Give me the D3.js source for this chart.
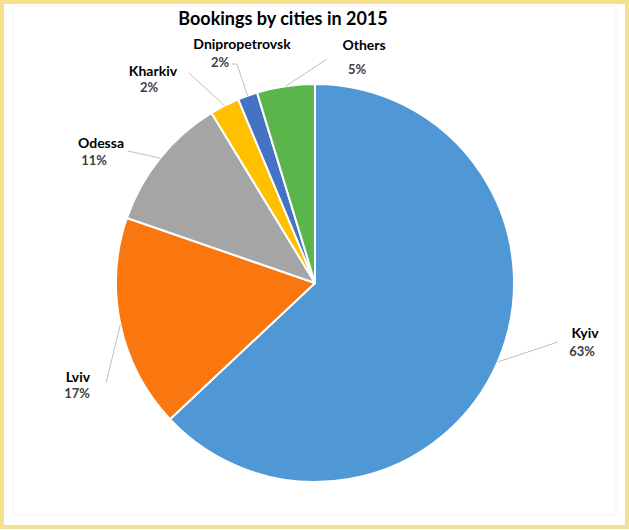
<!DOCTYPE html>
<html>
<head>
<meta charset="utf-8">
<title>Bookings by cities</title>
<script src="https://d3js.org/d3.v7.min.js"></script>
<style>
  body { margin: 0; background: #fff; }
  svg text { font-family: Lato, "Open Sans", sans-serif; font-weight: bold; }
</style>
</head>
<body>
<svg id="chart"></svg>
<script>
// data
const cities = ["Kyiv", "Lviv", "Odessa", "Kharkiv", "Dnipropetrovsk", "Others"];
const shares = [63, 17.3, 11, 2.4, 1.6, 4.7];
const shareLabels = ["63%", "17%", "11%", "2%", "2%", "5%"];
const colors = ["#5097d5", "#fa760e", "#a5a5a5", "#ffc000", "#4472c4", "#5ab64b"];

// label layout (name position, percent position, leader start, optional elbow)
const labelLayout = [
  { name: [585, 338], pct: [582, 356], line: [[558, 342]] },
  { name: [78, 382], pct: [77, 398], line: [[106, 383]] },
  { name: [101, 148], pct: [94, 165], line: [[128, 151]] },
  { name: [153, 76], pct: [149, 92], line: [[189, 73]] },
  { name: [242, 49], pct: [220, 67], line: [[232, 64], [237, 64]] },
  { name: [364, 50], pct: [357, 74], line: [[327, 59]] }
];

const width = 629, height = 530;
const cx = 315, cy = 283, radius = 199;

const svg = d3.select("#chart")
  .attr("width", width)
  .attr("height", height);

// yellow frame
svg.append("rect")
  .attr("x", 2).attr("y", 2)
  .attr("width", width - 4).attr("height", height - 5)
  .attr("fill", "#fff")
  .attr("stroke", "#f7e08c")
  .attr("stroke-width", 4);

svg.append("rect")
  .attr("x", 13).attr("y", 6)
  .attr("width", width - 26).attr("height", 509)
  .attr("fill", "none")
  .attr("stroke", "#f3f3f3")
  .attr("stroke-width", 1);

svg.append("text")
  .attr("x", 283)
  .attr("y", 25)
  .attr("text-anchor", "middle")
  .attr("font-size", 18)
  .attr("fill", "#000")
  .text("Bookings by cities in 2015");

const pie = d3.pie().sort(null).value(d => d);
const arcs = pie(shares);

const arc = d3.arc().innerRadius(0).outerRadius(radius);
const edge = d3.arc().innerRadius(radius).outerRadius(radius);

const g = svg.append("g").attr("transform", `translate(${cx},${cy})`);

g.selectAll("path.slice")
  .data(arcs)
  .enter()
  .append("path")
  .attr("class", "slice")
  .attr("d", arc)
  .attr("fill", (d, i) => colors[i])
  .attr("stroke", "#fff")
  .attr("stroke-width", 2)
  .attr("stroke-linejoin", "round");

// leader lines
const line = d3.line();
svg.selectAll("path.leader")
  .data(arcs)
  .enter()
  .append("path")
  .attr("class", "leader")
  .attr("d", (d, i) => {
    const c = edge.centroid(d);
    const pts = labelLayout[i].line.concat([[cx + c[0], cy + c[1]]]);
    return line(pts);
  })
  .attr("fill", "none")
  .attr("stroke", "#bfbfbf")
  .attr("stroke-width", 1);

const labels = svg.selectAll("g.label")
  .data(cities)
  .enter()
  .append("g")
  .attr("class", "label");

labels.append("text")
  .attr("x", (d, i) => labelLayout[i].name[0])
  .attr("y", (d, i) => labelLayout[i].name[1])
  .attr("text-anchor", "middle")
  .attr("font-size", 14)
  .attr("fill", "#000")
  .text(d => d);

labels.append("text")
  .attr("x", (d, i) => labelLayout[i].pct[0])
  .attr("y", (d, i) => labelLayout[i].pct[1])
  .attr("text-anchor", "middle")
  .attr("font-size", 13)
  .attr("fill", "#404040")
  .text((d, i) => shareLabels[i]);
</script>
</body>
</html>
